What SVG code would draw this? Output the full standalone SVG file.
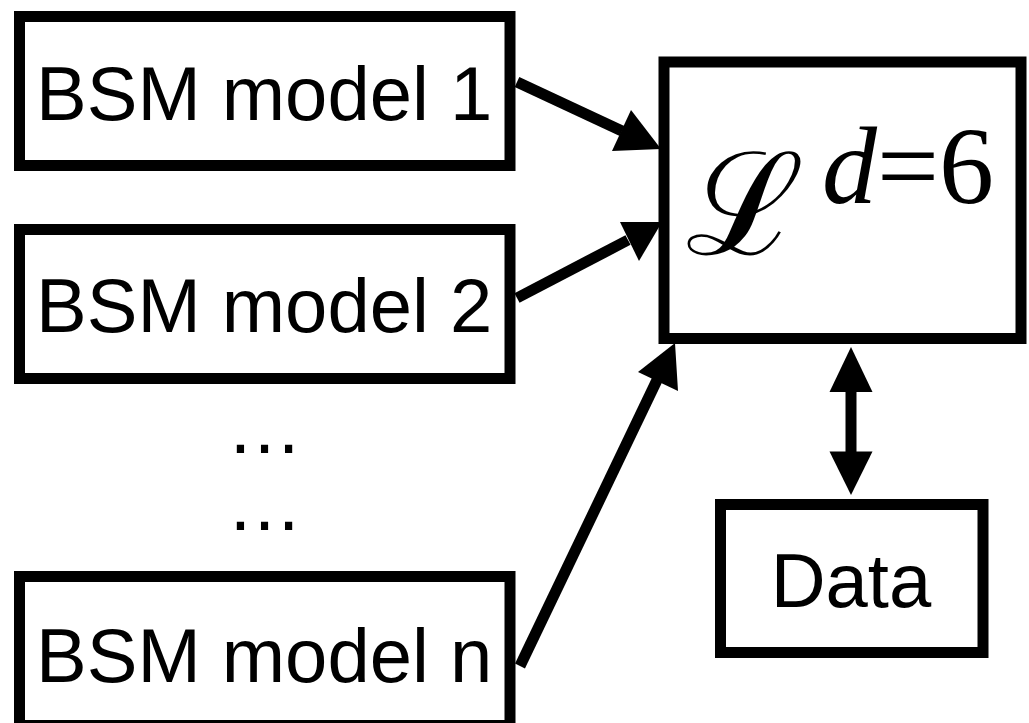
<svg xmlns="http://www.w3.org/2000/svg" width="1029" height="723" viewBox="0 0 1029 723">
  <style>
    .box { fill: #fff; stroke: #000; stroke-width: 11; }
    .label { font-family: "Liberation Sans", Arial, Helvetica, sans-serif; font-size: 76px; fill: #000; }
    .shaft { stroke: #000; stroke-width: 11; fill: none; stroke-linecap: butt; }
    .head { fill: #000; stroke: none; }
    .math { font-family: "Liberation Serif", "Times New Roman", serif; fill: #000; }
  </style>
  <rect width="1029" height="723" fill="#fff"/>

  <!-- model boxes -->
  <g id="model1">
    <rect class="box" x="19.5" y="16.5" width="490.5" height="149"/>
    <text class="label" x="36" y="120">BSM model 1</text>
  </g>
  <g id="model2">
    <rect class="box" x="19.5" y="229.5" width="490.5" height="149"/>
    <text class="label" x="36" y="332">BSM model 2</text>
  </g>
  <g id="ellipsis">
    <text class="label" x="264.5" y="453" text-anchor="middle">…</text>
    <text class="label" x="264.5" y="530" text-anchor="middle">…</text>
  </g>
  <g id="modeln">
    <rect class="box" x="19.5" y="576.5" width="490.5" height="149"/>
    <text class="label" x="36" y="682">BSM model n</text>
  </g>

  <!-- effective Lagrangian box -->
  <g id="lagrangian">
    <rect class="box" x="664" y="62" width="357" height="276.5"/>
    <text class="math" x="686" y="254" font-size="142" font-family="DejaVu Serif, serif">ℒ</text>
    <text class="math" y="203" font-size="110"><tspan x="822" font-style="italic">d</tspan><tspan>=6</tspan></text>
  </g>

  <!-- data box -->
  <g id="data">
    <rect class="box" x="720.5" y="504.5" width="262.5" height="148"/>
    <text class="label" x="851" y="607" text-anchor="middle" font-size="73">Data</text>
  </g>

  <!-- connectors -->
  <g id="connectors">
    <line class="shaft" x1="517" y1="82" x2="622" y2="131"/>
    <polygon class="head" points="661,149 631,110 612,151"/>

    <line class="shaft" x1="517" y1="298" x2="628" y2="240"/>
    <polygon class="head" points="662,222 620,222 639,261"/>

    <line class="shaft" x1="520" y1="666" x2="658" y2="378"/>
    <polygon class="head" points="675,343 638,372 678,391"/>

    <line class="shaft" x1="851" y1="388" x2="851" y2="455"/>
    <polygon class="head" points="851,347 829.5,392 872.5,392"/>
    <polygon class="head" points="851,495 829.5,451.5 872.5,451.5"/>
  </g>
</svg>
